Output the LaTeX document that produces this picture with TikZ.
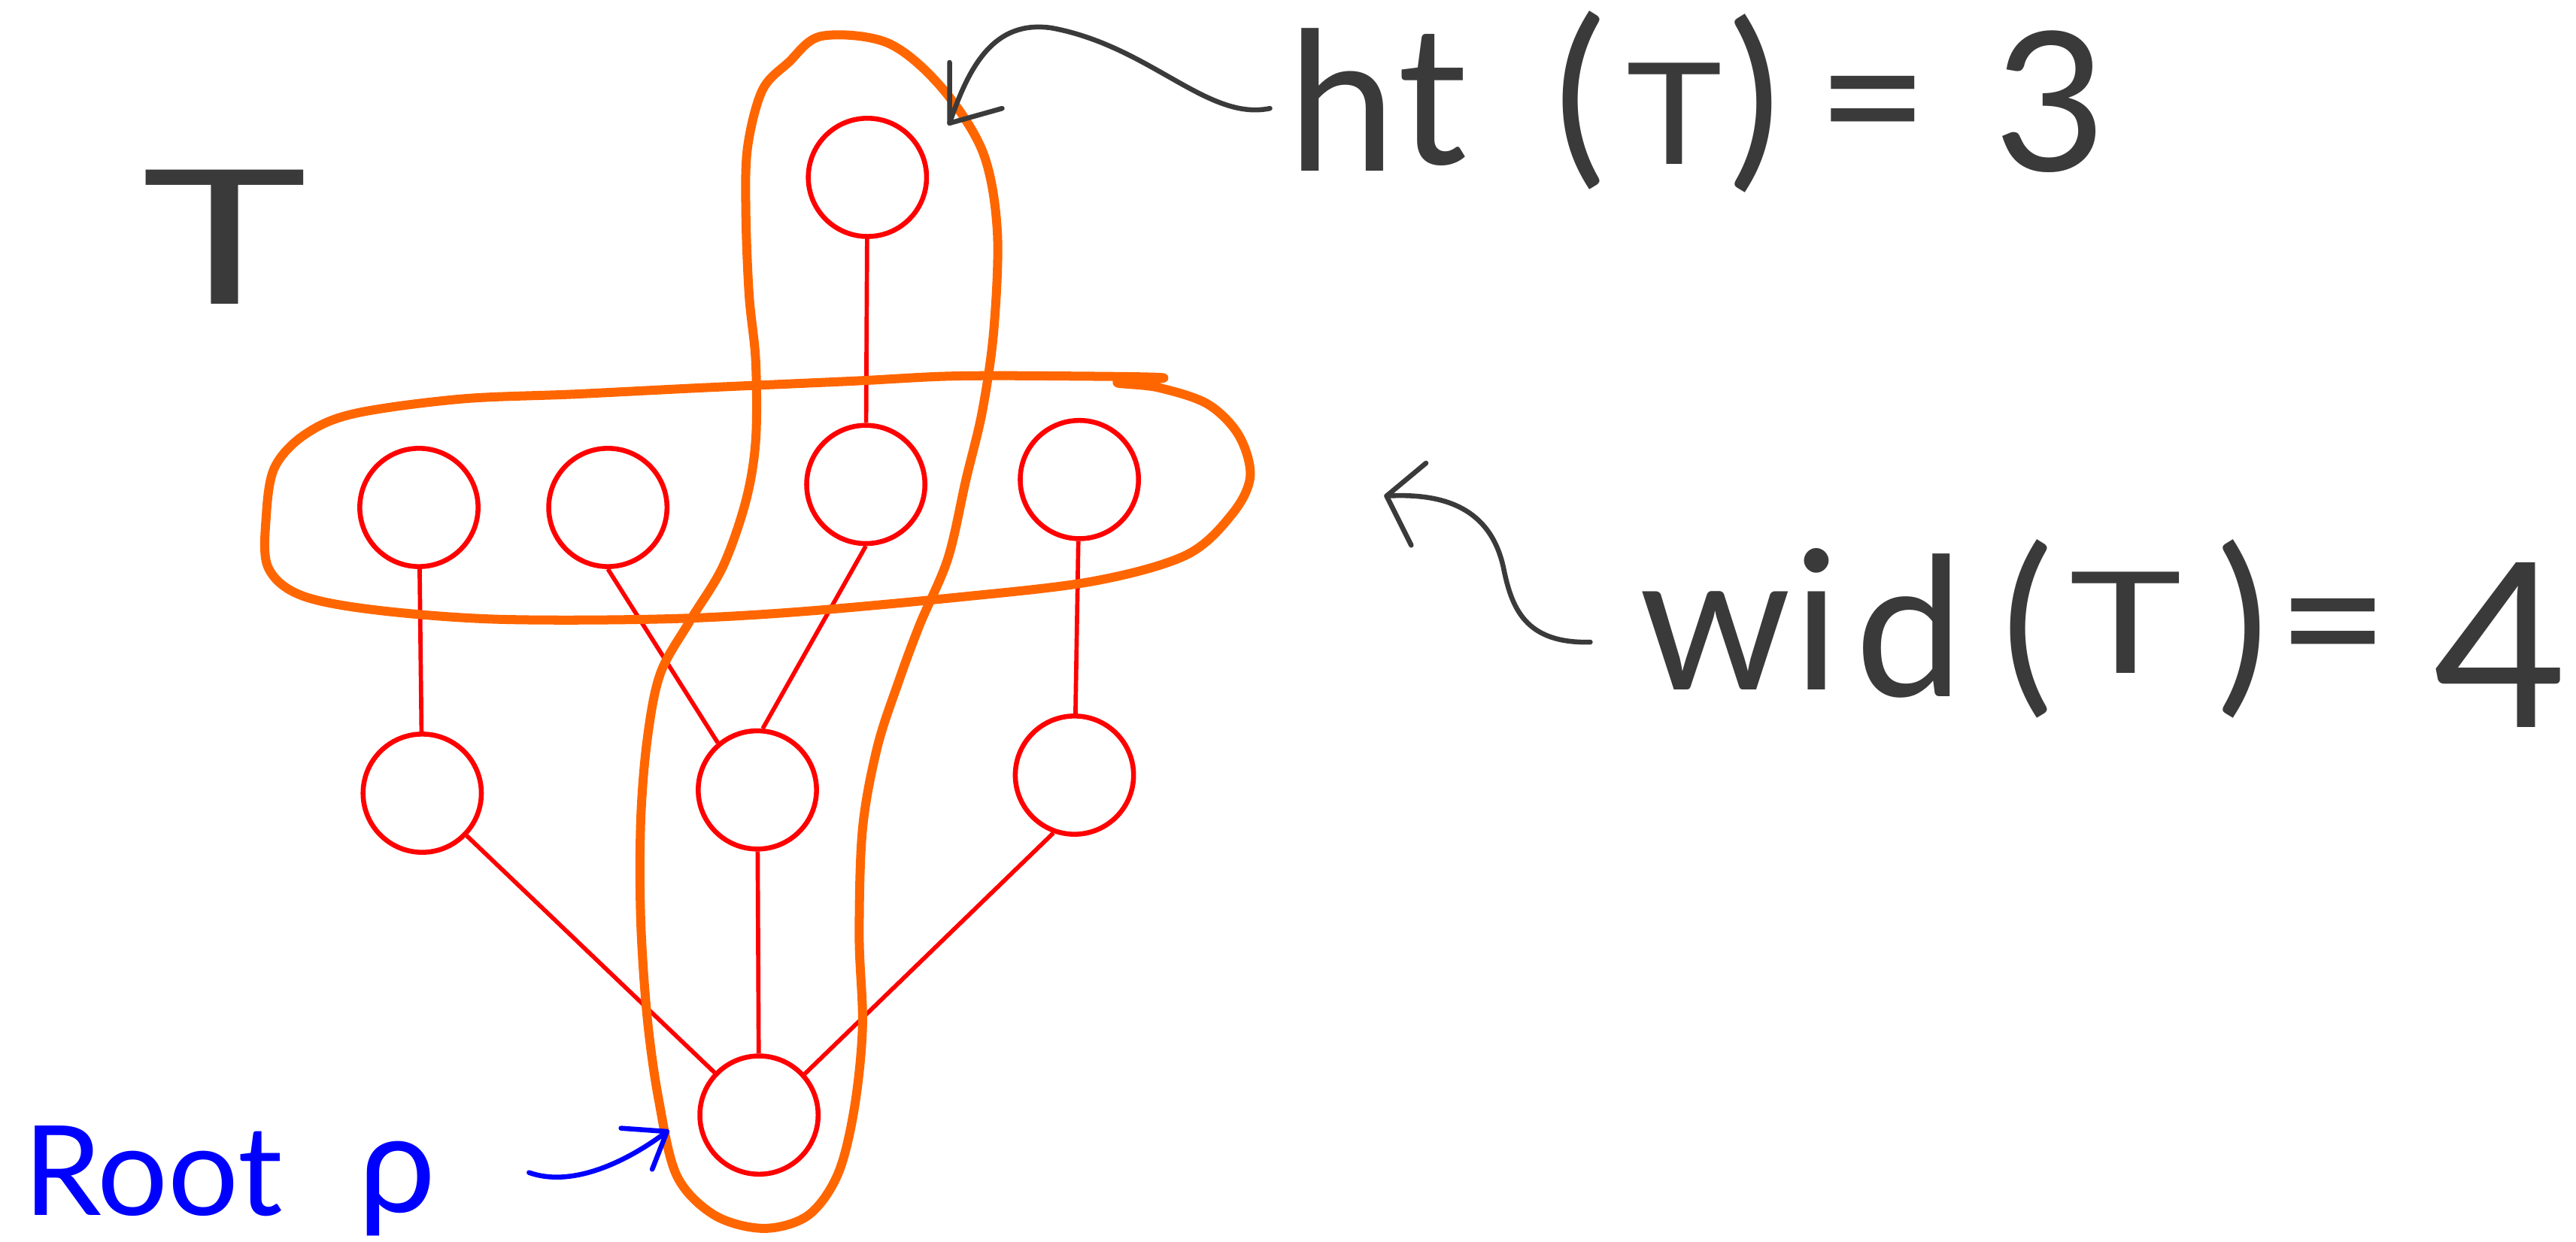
\documentclass[tikz,border=0pt]{standalone}
\usepackage{fontspec}
\setmainfont{Lato}
\definecolor{ink}{HTML}{3A3A3A}
\definecolor{nodered}{HTML}{FF0000}
\definecolor{loop}{HTML}{FF6600}
\definecolor{pen}{HTML}{0000FF}
\begin{document}
\begin{tikzpicture}[x=1pt,y=-1pt,
  tnode/.style={circle,draw=nodered,line width=3pt,minimum size=72pt,inner sep=0pt},
  tedge/.style={draw=nodered,line width=2.6pt},
  hull/.style={draw=loop,line width=5.5pt,line join=round},
  pointer/.style={draw=ink,line width=3pt,line cap=round,line join=round},
  bluepointer/.style={draw=pen,line width=3pt,line cap=round,line join=round},
  glyph/.style={text=ink,inner sep=0pt,anchor=base,font=\fontsize{118}{120}\selectfont},
  smallglyph/.style={glyph,font=\fontsize{86}{90}\selectfont},
  blueglyph/.style={text=pen,inner sep=0pt,anchor=base west,font=\fontsize{76}{80}\selectfont}]
\useasboundingbox (0,0) rectangle (1568,756);
\fill[white] (0,0) rectangle (1568,756);

% nodes
\node[tnode] (t) at (528,108) {};
\node[tnode] (a1) at (255,309) {};
\node[tnode] (a2) at (370,309) {};
\node[tnode] (a3) at (527,295) {};
\node[tnode] (a4) at (657,292) {};
\node[tnode] (b1) at (257,483) {};
\node[tnode] (b2) at (461,481) {};
\node[tnode] (b3) at (654,472) {};
\node[tnode] (r) at (462,679) {};

% edges
\draw[tedge] (t) -- (a3);
\draw[tedge] (a1) -- (b1);
\draw[tedge] (a2.south) -- (b2.130);
\draw[tedge] (a3.south) -- (b2.85);
\draw[tedge] (a4) -- (b3);
\draw[tedge] (b1) -- (r);
\draw[tedge] (b2) -- (r);
\draw[tedge] (b3.250) -- (r.42);

% orange hulls
\draw[hull] plot[smooth cycle, tension=0.55] coordinates {
 (464,55) (480,38) (500,22) (540,26) (572,52) (598,92) (607,140) (605,200) (598,250)
 (588,292) (577,340) (560,380) (547,415) (534,455) (525,505) (523,570)
 (525,625) (520,675) (510,715) (492,740) (465,748) (435,740) (412,716)
 (401,670) (394,620) (390,560) (390,500) (394,450) (402,410) (420,378)
 (440,345) (454,305) (460,268) (460,220) (456,180) (454,130) (455,90)};
\draw[hull] plot[smooth cycle, tension=0.55] coordinates {
 (708,230) (650,229) (580,229) (520,232) (430,236) (350,240) (280,243)
 (215,252) (185,265) (167,285) (162,315) (163,345) (182,362) (225,371)
 (300,377) (400,377) (480,373) (580,364) (665,354) (722,338) (750,313)
 (761,290) (754,265) (735,246) (705,236) (680,233)};

% T label
\node[glyph,font=\fontsize{114}{116}\selectfont] (tlabel) at (137,185) {\scalebox{1.5}[1]{T}};

% ht (T) = 3
\node[glyph] (h1) at (817,104) {h};
\node[glyph] (h2) at (872,100) {t};
\node[glyph] (h3) at (962,98) {(};
\node[smallglyph] (h4) at (1019,100) {\scalebox{1.15}[1]{T}};
\node[glyph] (h5) at (1068,100) {)};
\node[glyph] (h6) at (1140,100) {=};
\node[glyph] (h7) at (1248,104) {3};

% wid(T) = 4
\node[glyph] (w1) at (1044,420) {w};
\node[glyph] (w2) at (1106,420) {i};
\node[glyph] (w3) at (1162,424) {d};
\node[glyph] (w4) at (1234,420) {(};
\node[smallglyph] (w5) at (1294,410) {\scalebox{1.35}[1]{T}};
\node[glyph] (w6) at (1365,420) {)};
\node[glyph] (w7) at (1420,418) {=};
\node[glyph,font=\fontsize{140}{144}\selectfont] (w8) at (1522,443) {4};

% Root rho
\node[blueglyph] (root) at (14,740) {Root};
\node[blueglyph,font=\fontsize{84}{88}\selectfont] (rho) at (218,738) {ρ};

% ht pointer
\coordinate (htTail) at (773,66);
\coordinate (htTip) at (578,75);
\draw[pointer] (htTail) .. controls (735,74) and (700,28) .. (640,17)
  .. controls (605,12) and (590,40) .. (htTip);
\draw[pointer] (578,38) -- (htTip) -- (610,66);

% wid pointer
\coordinate (wTail) at (968,391);
\coordinate (wTip) at (844,302);
\draw[pointer] (wTail) .. controls (928,392) and (920,370) .. (915,345)
  .. controls (907,310) and (880,300) .. (wTip);
\draw[pointer] (868,282) -- (wTip) -- (859,332);

% root pointer
\coordinate (rTail) at (322,714);
\coordinate (rTip) at (406,689);
\draw[bluepointer] (rTail) .. controls (350,724) and (385,705) .. (rTip);
\draw[bluepointer] (378,687) -- (rTip) -- (397,712);
\end{tikzpicture}
\end{document}
